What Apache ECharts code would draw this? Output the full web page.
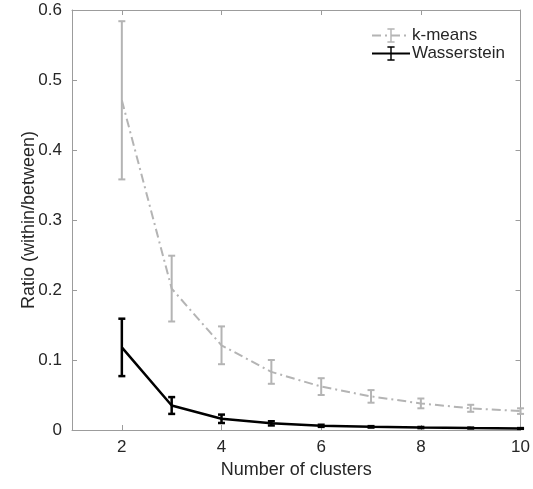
<!DOCTYPE html>
<html><head><meta charset="utf-8">
<script src="https://cdn.jsdelivr.net/npm/echarts@6/dist/echarts.min.js"></script>
<style>html,body{margin:0;padding:0;background:#fff}#c{width:533px;height:489px}</style>
</head><body><div id="c"></div>
<script>
var clusters = [2, 3, 4, 5, 6, 7, 8, 9, 10];
var kmeansMean = [0.471, 0.202, 0.121, 0.083, 0.062, 0.048, 0.038, 0.031, 0.027];
var kmeansErr  = [0.113, 0.047, 0.027, 0.017, 0.012, 0.009, 0.007, 0.005, 0.004];
var wassMean = [0.118, 0.035, 0.016, 0.0095, 0.006, 0.0045, 0.0035, 0.0028, 0.0022];
var wassErr  = [0.041, 0.012, 0.006, 0.003, 0.0015, 0.001, 0.0008, 0.0006, 0.0005];
var xTicks = [2, 4, 6, 8, 10];
var yTicks = [0, 0.1, 0.2, 0.3, 0.4, 0.5, 0.6];

var FONT = 'Liberation Sans';
var AX = '#9c9c9c';
var TXT = '#262626';
var GRAY = '#b4b4b4';

var ibeam = 'path://M0,10h0.01v0.01h-0.01Z M19.99,10h0.01v0.01h-0.01Z M5,0H15V2H11V18H15V20H5V18H9V2H5Z';

function pairs(m) { return clusters.map(function (c, i) { return [c, m[i]]; }); }
function errData(m, e) { return clusters.map(function (c, i) { return [c, m[i] - e[i], m[i] + e[i]]; }); }
function errRender(color, w, cap) {
  return function (params, api) {
    var x = api.value(0), lo = api.value(1), hi = api.value(2);
    var p1 = api.coord([x, hi]), p2 = api.coord([x, lo]);
    var st = { stroke: color, lineWidth: w };
    return { type: 'group', children: [
      { type: 'line', shape: { x1: p1[0], y1: p1[1], x2: p2[0], y2: p2[1] }, style: st },
      { type: 'line', shape: { x1: p1[0] - cap, y1: p1[1], x2: p1[0] + cap, y2: p1[1] }, style: st },
      { type: 'line', shape: { x1: p2[0] - cap, y1: p2[1], x2: p2[0] + cap, y2: p2[1] }, style: st }
    ]};
  };
}

var chart = echarts.init(document.getElementById('c'), null, { renderer: 'canvas' });
var axisCommon = {
  axisLine: { show: true, onZero: false, lineStyle: { color: AX, width: 1 } },
  splitLine: { show: false }
};
chart.setOption({
  animation: false,
  backgroundColor: '#fff',
  textStyle: { fontFamily: FONT },
  grid: { left: 72, right: 10, top: 10, bottom: 59, containLabel: false },
  legend: {
    orient: 'vertical', left: 366, top: 22, itemWidth: 38, itemHeight: 18, itemGap: 1,
    data: ['k-means', 'Wasserstein'],
    textStyle: { fontFamily: FONT, fontSize: 17, color: TXT, padding: [0, 0, 0, -3] },
    selectedMode: false
  },
  xAxis: [
    Object.assign({
      type: 'value', min: 1, max: 10, position: 'bottom',
      name: 'Number of clusters', nameLocation: 'middle', nameGap: 31, nameMoveOverlap: false,
      nameTextStyle: { fontFamily: FONT, fontSize: 18, color: TXT },
      axisTick: { show: true, inside: true, length: 5, lineStyle: { color: AX }, customValues: xTicks },
      axisLabel: { show: true, fontFamily: FONT, fontSize: 17, color: TXT, margin: 9, customValues: xTicks }
    }, axisCommon),
    Object.assign({
      type: 'value', min: 1, max: 10, position: 'top',
      axisTick: { show: true, inside: true, length: 5, lineStyle: { color: AX }, customValues: xTicks },
      axisLabel: { show: false }
    }, axisCommon)
  ],
  yAxis: [
    Object.assign({
      type: 'value', min: 0, max: 0.6, interval: 0.1, position: 'left',
      name: 'Ratio (within/between)', nameLocation: 'middle', nameGap: 34, nameMoveOverlap: false,
      nameTextStyle: { fontFamily: FONT, fontSize: 18, color: TXT },
      axisTick: { show: true, inside: true, length: 5, lineStyle: { color: AX }, customValues: yTicks },
      axisLabel: { show: true, fontFamily: FONT, fontSize: 17, color: TXT, margin: 10, customValues: yTicks,
        formatter: function (v) { return String(Math.round(v * 10) / 10); } }
    }, axisCommon),
    Object.assign({
      type: 'value', min: 0, max: 0.6, interval: 0.1, position: 'right',
      axisTick: { show: true, inside: true, length: 5, lineStyle: { color: AX }, customValues: yTicks },
      axisLabel: { show: false }
    }, axisCommon)
  ],
  series: [
    { name: 'k-means', type: 'line', data: pairs(kmeansMean), showSymbol: false, symbol: ibeam, silent: true,
      itemStyle: { color: GRAY }, lineStyle: { color: GRAY, width: 2, type: [9, 4, 2, 4] }, z: 2 },
    { name: 'k-means-err', type: 'custom', data: errData(kmeansMean, kmeansErr), silent: true,
      renderItem: errRender(GRAY, 2, 3.5), z: 2 },
    { name: 'Wasserstein', type: 'line', data: pairs(wassMean), showSymbol: false, symbol: ibeam, silent: true,
      itemStyle: { color: '#000' }, lineStyle: { color: '#000', width: 2.5, type: 'solid' }, z: 3 },
    { name: 'w-err', type: 'custom', data: errData(wassMean, wassErr), silent: true,
      renderItem: errRender('#000', 2.5, 3.5), z: 3 }
  ]
});
</script></body></html>
